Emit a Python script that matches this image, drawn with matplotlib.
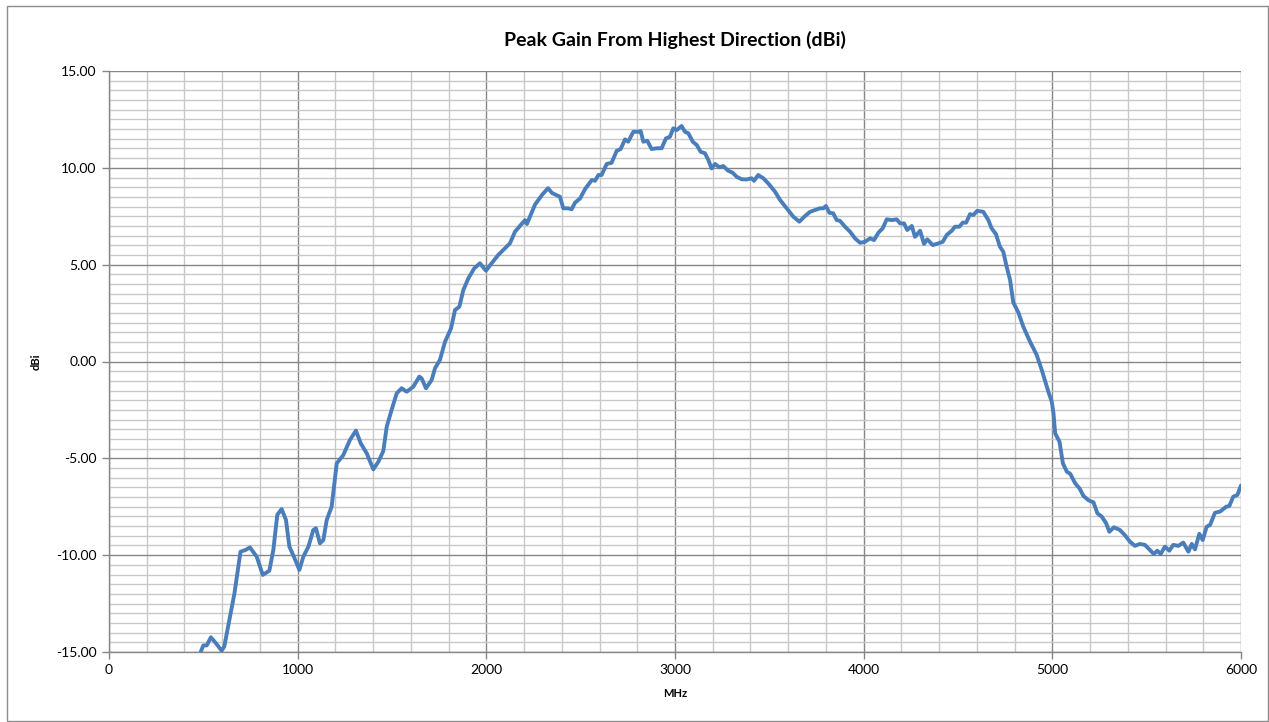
import matplotlib
matplotlib.use("Agg")
import matplotlib.pyplot as plt
from matplotlib.ticker import MultipleLocator, FormatStrFormatter
from matplotlib.patches import Rectangle

plt.rcParams['font.family'] = ['Lato', 'DejaVu Sans']

freq_mhz = [486, 500, 518, 540, 567, 597, 611, 638, 665, 697, 724, 747, 783, 815, 850,
            871, 892, 915, 938, 956, 980, 1009, 1030, 1057, 1083, 1097, 1118, 1136, 1154,
            1180, 1207, 1242, 1277, 1309, 1334, 1366, 1401, 1428, 1454, 1472, 1498, 1525,
            1551, 1578, 1613, 1645, 1657, 1680, 1710, 1728, 1754, 1781, 1813, 1834, 1857,
            1878, 1905, 1936, 1966, 1998, 2028, 2063, 2090, 2125, 2152, 2178, 2205, 2215,
            2258, 2295, 2327, 2348, 2390, 2408, 2434, 2452, 2470, 2497, 2523, 2559, 2576,
            2594, 2611, 2638, 2664, 2691, 2712, 2735, 2752, 2779, 2805, 2818, 2832, 2853,
            2876, 2903, 2929, 2952, 2973, 2991, 3009, 3035, 3053, 3071, 3094, 3115, 3136,
            3159, 3177, 3194, 3212, 3235, 3256, 3282, 3305, 3327, 3353, 3380, 3406, 3419,
            3441, 3468, 3494, 3530, 3557, 3592, 3627, 3659, 3689, 3716, 3742, 3768, 3786,
            3800, 3818, 3839, 3857, 3874, 3901, 3928, 3954, 3981, 4007, 4034, 4055, 4078,
            4101, 4122, 4149, 4175, 4193, 4214, 4231, 4255, 4272, 4299, 4320, 4337, 4366,
            4396, 4419, 4440, 4467, 4484, 4507, 4525, 4543, 4564, 4581, 4602, 4634, 4661,
            4678, 4701, 4722, 4740, 4758, 4776, 4793, 4820, 4846, 4882, 4917, 4944, 4979,
            4997, 5006, 5015, 5038, 5056, 5077, 5095, 5121, 5144, 5165, 5192, 5218, 5239,
            5262, 5285, 5302, 5327, 5358, 5384, 5411, 5438, 5464, 5491, 5517, 5538, 5556,
            5574, 5597, 5620, 5641, 5668, 5694, 5721, 5739, 5756, 5779, 5797, 5818, 5836,
            5862, 5889, 5921, 5938, 5959, 5981, 6000]

gain_dbi = [-15.0, -14.66, -14.66, -14.24, -14.55, -14.93, -14.72, -13.35, -11.97, -9.82,
            -9.73, -9.6, -10.08, -11.02, -10.8, -9.73, -7.92, -7.62, -8.18, -9.56, -10.08,
            -10.76, -10.08, -9.56, -8.7, -8.61, -9.39, -9.22, -8.18, -7.5, -5.26, -4.83,
            -4.05, -3.57, -4.22, -4.74, -5.57, -5.17, -4.62, -3.37, -2.5, -1.64, -1.38,
            -1.56, -1.3, -0.78, -0.87, -1.38, -0.96, -0.35, 0.08, 1.02, 1.71, 2.66, 2.83,
            3.69, 4.3, 4.81, 5.07, 4.69, 5.07, 5.5, 5.76, 6.1, 6.7, 7.0, 7.3, 7.1, 8.1, 8.6,
            8.95, 8.7, 8.51, 7.91, 7.91, 7.86, 8.2, 8.42, 8.9, 9.37, 9.33, 9.63, 9.63, 10.2,
            10.26, 10.88, 10.97, 11.47, 11.35, 11.86, 11.86, 11.9, 11.35, 11.4, 10.97, 11.01,
            11.01, 11.52, 11.6, 12.04, 11.95, 12.16, 11.86, 11.78, 11.35, 11.18, 10.83, 10.75,
            10.4, 9.97, 10.2, 10.03, 10.09, 9.85, 9.75, 9.54, 9.41, 9.4, 9.46, 9.33, 9.63,
            9.46, 9.2, 8.77, 8.34, 7.91, 7.48, 7.22, 7.51, 7.73, 7.82, 7.91, 7.91, 8.03,
            7.68, 7.65, 7.3, 7.27, 6.96, 6.7, 6.36, 6.13, 6.18, 6.36, 6.27, 6.65, 6.88, 7.34,
            7.3, 7.34, 7.13, 7.13, 6.79, 7.0, 6.44, 6.75, 6.07, 6.31, 6.01, 6.1, 6.18, 6.53,
            6.75, 6.96, 6.96, 7.17, 7.17, 7.61, 7.56, 7.78, 7.73, 7.3, 6.88, 6.58, 5.93, 5.67,
            4.89, 4.21, 3.05, 2.53, 1.8, 1.02, 0.34, -0.44, -1.56, -2.08, -2.67, -3.71, -4.14,
            -5.26, -5.69, -5.8, -6.29, -6.55, -6.94, -7.17, -7.27, -7.84, -8.01, -8.35, -8.79,
            -8.56, -8.7, -8.96, -9.3, -9.52, -9.42, -9.47, -9.73, -9.94, -9.77, -9.94, -9.56,
            -9.77, -9.47, -9.52, -9.35, -9.82, -9.42, -9.7, -8.9, -9.22, -8.53, -8.44, -7.81,
            -7.75, -7.5, -7.46, -6.98, -6.89, -6.4]

title = "Peak Gain From Highest Direction (dBi)"
x_label = "MHz"
y_label = "dBi"

W, H = 1269, 722
fig = plt.figure(figsize=(W / 100, H / 100), dpi=100)
fig.patch.set_facecolor('white')
fig.patches.append(Rectangle((7 / W, 1 / H), (W - 8) / W, (H - 7) / H, transform=fig.transFigure,
                             fill=False, edgecolor='#8c8c8c', linewidth=1.0))

ax = fig.add_axes([109 / W, (H - 652) / H, 1132 / W, 581 / H])
ax.set_xlim(0, 6000)
ax.set_ylim(-15, 15)

ax.xaxis.set_major_locator(MultipleLocator(1000))
ax.xaxis.set_minor_locator(MultipleLocator(200))
ax.yaxis.set_major_locator(MultipleLocator(5))
ax.yaxis.set_minor_locator(MultipleLocator(0.5))
ax.yaxis.set_major_formatter(FormatStrFormatter('%.2f'))

ax.grid(which='minor', color='#c8c8c8', linewidth=1.0)
ax.grid(which='major', color='#868686', linewidth=1.0)
ax.set_axisbelow(True)

for s in ['top', 'right']:
    ax.spines[s].set_visible(False)
for s in ['left', 'bottom']:
    ax.spines[s].set_color('#868686')
    ax.spines[s].set_linewidth(1.0)

ax.tick_params(which='major', direction='out', length=5, width=1, color='#868686',
               labelsize=10, labelcolor='black', pad=4)
ax.tick_params(which='minor', length=0)

ax.plot(freq_mhz, gain_dbi, color='#4a7ebb', linewidth=2.8, solid_joinstyle='round',
        solid_capstyle='round', zorder=3)

ax.set_title(title, fontsize=14, fontweight='bold', pad=18)
ax.set_xlabel(x_label, fontsize=8, fontweight='bold', labelpad=8)
ax.set_ylabel(y_label, fontsize=8, fontweight='bold', labelpad=10)

fig.savefig('out.png', dpi=100)
